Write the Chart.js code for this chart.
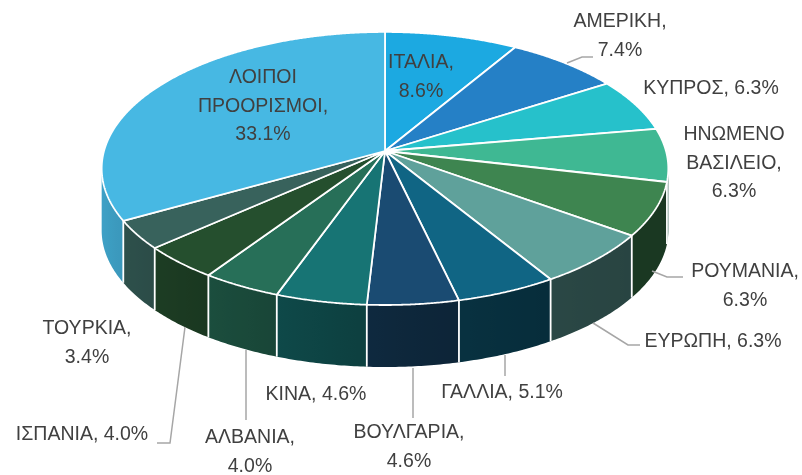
<!DOCTYPE html>
<html><head><meta charset="utf-8">
<script src="https://cdn.jsdelivr.net/npm/chart.js@4.4.0/dist/chart.umd.min.js"></script>
<style>html,body{margin:0;padding:0;background:#fff;}canvas{display:block;}</style>
</head><body>
<canvas id="c" width="802" height="475"></canvas>
<script>
// ---- data ----
const categories = ['ΙΤΑΛΙΑ','ΑΜΕΡΙΚΗ','ΚΥΠΡΟΣ','ΗΝΩΜΕΝΟ ΒΑΣΙΛΕΙΟ','ΡΟΥΜΑΝΙΑ','ΕΥΡΩΠΗ','ΓΑΛΛΙΑ','ΒΟΥΛΓΑΡΙΑ','ΚΙΝΑ','ΑΛΒΑΝΙΑ','ΙΣΠΑΝΙΑ','ΤΟΥΡΚΙΑ','ΛΟΙΠΟΙ ΠΡΟΟΡΙΣΜΟΙ'];
const shares = [8.6, 7.4, 6.3, 6.3, 6.3, 6.3, 5.1, 4.6, 4.6, 4.0, 4.0, 3.4, 33.1];
const colors = ['#1CA9E1','#2580C6','#26C1CB','#3FB893','#3E8550','#5FA19B','#106584','#1A4B72','#177474','#276F58','#254F2E','#38625C','#47B8E3'];

// ---- layout (not data): perspective view of the pie ----
const VIEW = {cx: 385, cy: 151, a: 281, b: 134.3, k: 0.128, depth: 62};
// label style: 'one' = single line, 'two' = name / value, 'split' = words on lines / value
const labelStyle = ['two','two','one','split','two','one','one','two','one','two','one','two','split'];
const labelPos = [[421,63],[620,22],[711,89],[734,135],[745,272],[713,342],[502,393],[409,433],[316,395],[250,438],[82,435],[87,329],[263,78]];
const leaders = [null,[[567,63],[582,57],[593,57]],null,null,[[652,271],[667,277],[683,277]],[[593,323],[628,345],[640,345]],[[505,355],[505,376]],[[413,368],[413,418]],null,[[246,350],[246,420]],[[185,327],[170,443],[157,443]],null,null];
const LINE_H = 28.5;

function hexToRgb(h){const n=parseInt(h.slice(1),16);return [(n>>16)&255,(n>>8)&255,n&255];}
function shade(h,f){const c=hexToRgb(h);return 'rgb('+c.map(v=>Math.round(v*f)).join(',')+')';}
function sideFactor(a){const q=(1-Math.cos(a))/2;return 0.42+0.46*q*q;}
function fmt(v){return v.toFixed(1)+'%';}
function labelLines(i){
  const name=categories[i], v=fmt(shares[i]), st=labelStyle[i];
  if(st==='one') return [name+', '+v];
  if(st==='two') return [name+',', v];
  const w=name.split(' '); w[w.length-1]+=','; return w.concat([v]);
}
// project unit-disk coords (u right, v toward viewer) to the screen
function project(u,v){const d=1-VIEW.k*v;return [VIEW.cx+VIEW.a*u/d, VIEW.cy+VIEW.b*v/d];}
function rim(a){return project(Math.cos(a),Math.sin(a));}

const TAU=Math.PI*2;
const pie3d = {
  id:'pie3d',
  beforeDatasetsDraw(chart){
    const ctx=chart.ctx, arcs=chart.getDatasetMeta(0).data;
    const D=VIEW.depth;
    const amin=Math.asin(VIEW.k), amax=Math.PI-amin;
    // side walls
    arcs.forEach((el,i)=>{
      const s=Math.max(el.startAngle,amin), e=Math.min(el.endAngle,amax);
      if(e<=s) return;
      const n=Math.max(4,Math.ceil((e-s)/0.01));
      const xs=rim(s)[0], xe=rim(e)[0];
      const g=ctx.createLinearGradient(xs,0,xe,0);
      for(let k=0;k<=10;k++){
        const a=s+(e-s)*k/10;
        let t=(xe===xs)?0:(rim(a)[0]-xs)/(xe-xs);
        g.addColorStop(Math.min(1,Math.max(0,t)), shade(colors[i], sideFactor(a)));
      }
      ctx.beginPath();
      for(let j=0;j<=n;j++){const p=rim(s+(e-s)*j/n); j?ctx.lineTo(p[0],p[1]):ctx.moveTo(p[0],p[1]);}
      for(let j=n;j>=0;j--){const p=rim(s+(e-s)*j/n); ctx.lineTo(p[0],p[1]+D);}
      ctx.closePath();
      ctx.fillStyle=g; ctx.fill();
    });
    ctx.save();
    ctx.strokeStyle='#fff'; ctx.lineWidth=1.8;
    arcs.forEach(el=>{
      const a=((el.endAngle%TAU)+TAU)%TAU;
      if(a>amin+0.005 && a<amax-0.005){
        const p=rim(a); ctx.beginPath(); ctx.moveTo(p[0],p[1]); ctx.lineTo(p[0],p[1]+D); ctx.stroke();
      }
    });
    ctx.restore();
    // route the library's own arc paths through the perspective projection
    const el0=arcs[0], ox=el0.x, oy=el0.y, R=el0.outerRadius;
    const P=(x,y)=>project((x-ox)/R,(y-oy)/R);
    const proto=Object.getPrototypeOf(ctx);
    const mv=proto.moveTo, ln=proto.lineTo;
    ctx.moveTo=function(x,y){const p=P(x,y);mv.call(this,p[0],p[1]);};
    ctx.lineTo=function(x,y){const p=P(x,y);ln.call(this,p[0],p[1]);};
    ctx.arc=function(x,y,r,a0,a1,ccw){
      let sw;
      if(!ccw){sw=a1-a0; sw = sw>=TAU?TAU:((sw%TAU)+TAU)%TAU;}
      else {sw=a0-a1; sw = sw>=TAU?TAU:((sw%TAU)+TAU)%TAU; sw=-sw;}
      const n=Math.max(2,Math.ceil(Math.abs(sw)/0.005));
      for(let j=0;j<=n;j++){const a=a0+sw*j/n;const p=P(x+r*Math.cos(a),y+r*Math.sin(a));ln.call(this,p[0],p[1]);}
    };
  },
  afterDatasetsDraw(chart){
    const ctx=chart.ctx;
    delete ctx.moveTo; delete ctx.lineTo; delete ctx.arc;
  },
  afterDraw(chart){
    const ctx=chart.ctx;
    ctx.save();
    ctx.strokeStyle='#A6A6A6'; ctx.lineWidth=1.5;
    leaders.forEach(l=>{ if(!l) return; ctx.beginPath(); l.forEach((p,k)=>k?ctx.lineTo(p[0],p[1]):ctx.moveTo(p[0],p[1])); ctx.stroke(); });
    ctx.fillStyle='#404040'; ctx.font='19.5px "Liberation Sans", Arial, sans-serif';
    ctx.textAlign='center'; ctx.textBaseline='middle';
    categories.forEach((c,i)=>{
      const [x,y]=labelPos[i];
      labelLines(i).forEach((t,k)=>ctx.fillText(t,x,y+k*LINE_H));
    });
    ctx.restore();
  }
};

new Chart(document.getElementById('c'),{
  type:'pie',
  data:{labels:categories,datasets:[{data:shares,backgroundColor:colors,borderColor:'#ffffff',borderWidth:1.8,clip:false}]},
  options:{responsive:false,animation:false,layout:{padding:0},
    plugins:{legend:{display:false},tooltip:{enabled:false}}},
  plugins:[pie3d]
});
</script>
</body></html>
